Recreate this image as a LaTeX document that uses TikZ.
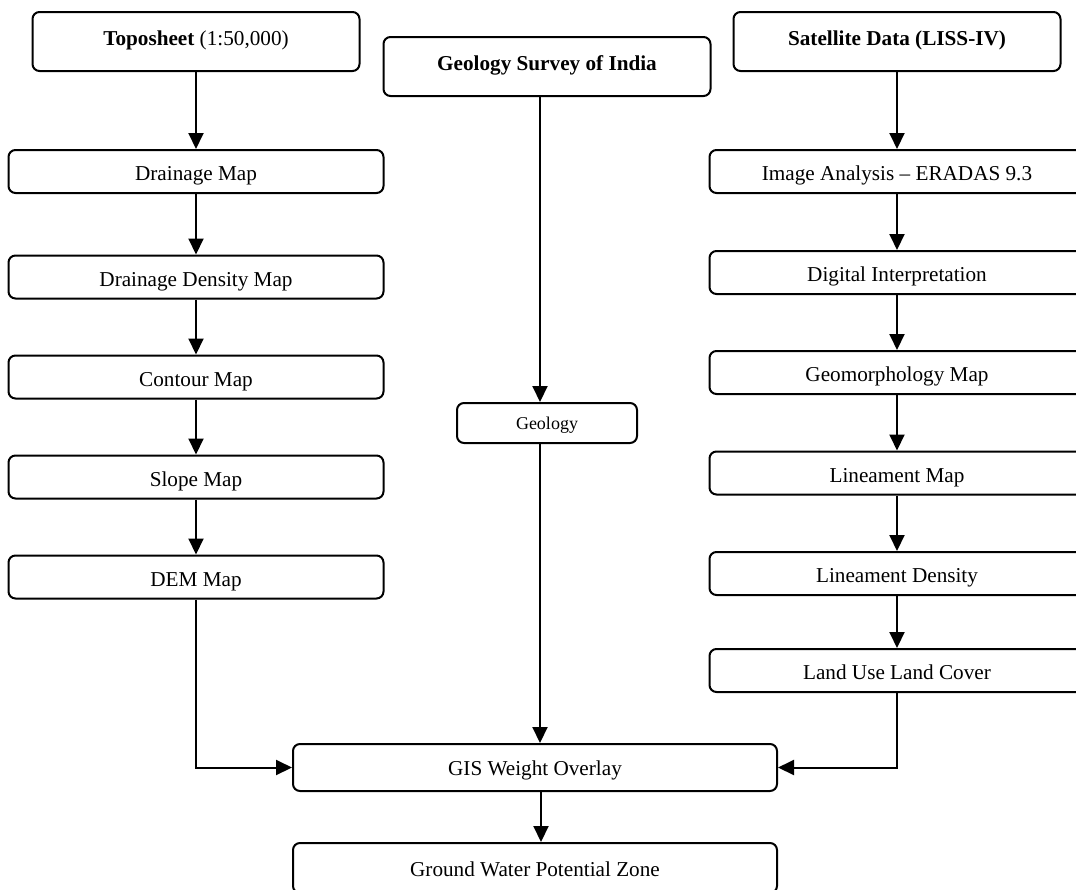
\documentclass[tikz,border=0pt]{standalone}
\usepackage{fontspec}
\setmainfont{Liberation Serif}
\usetikzlibrary{arrows.meta, positioning}

\tikzset{
  box/.style={draw, rounded corners=7pt, minimum width=375pt, minimum height=43pt,
    inner sep=0pt, text height=18pt, text depth=0pt, font=\fontsize{21.2}{25}\selectfont},
  head/.style={box, minimum width=327pt, minimum height=59pt, text height=7pt},
  wide/.style={box, minimum width=484pt, minimum height=47pt, text height=16.4pt},
}

\begin{document}
\begin{tikzpicture}[>={Triangle[width=15pt,length=16pt]}, line width=2pt,
    node distance=100pt, on grid]
      \useasboundingbox (0,0) rectangle (1076pt,-889pt);

      % left column
      \node[head] (l_0) at (196pt,-41.5pt) {\textbf{Toposheet} (1:50,000)};
      \node[box] (l_1) [below=130pt of l_0] {Drainage Map};
      \node[box] (l_2) [below=105.5pt of l_1] {Drainage Density Map};
      \node[box] (l_3) [below=of l_2] {Contour Map};
      \node[box] (l_4) [below=of l_3] {Slope Map};
      \node[box] (l_5) [below=of l_4] {DEM Map};

      % middle
      \node[head] (m_0) at (547pt,-66.5pt) {\textbf{Geology Survey of India}};
      \node[box, minimum width=180pt, minimum height=40pt, text height=12pt,
        font=\fontsize{18}{22}\selectfont] (m_1) [below=356.5pt of m_0] {Geology};
      \node[wide] (o_1) at (535pt,-767.5pt) {GIS Weight Overlay};
      \node[wide, minimum height=50pt] (o_2) [below=100.5pt of o_1] {Ground Water Potential Zone};

      % right column
      \node[head] (r_0) at (897pt,-41.5pt) {\textbf{Satellite Data (LISS-IV)}};
      \node[box] (r_1) [below=130pt of r_0] {Image Analysis – ERADAS 9.3};
      \node[box] (r_2) [below=101pt of r_1] {Digital Interpretation};
      \node[box] (r_3) [below=of r_2] {Geomorphology Map};
      \node[box] (r_4) [below=100.5pt of r_3] {Lineament Map};
      \node[box] (r_5) [below=100.5pt of r_4] {Lineament Density};
      \node[box] (r_6) [below=97pt of r_5] {Land Use Land Cover};

      \path[->] (l_0) edge (l_1)
            (l_1) edge (l_2)
            (l_2) edge (l_3)
            (l_3) edge (l_4)
            (l_4) edge (l_5);
      \path[->] (r_0) edge (r_1)
            (r_1) edge (r_2)
            (r_2) edge (r_3)
            (r_3) edge (r_4)
            (r_4) edge (r_5)
            (r_5) edge (r_6);
      \path[->] ([xshift=-7pt]m_0.south -| m_1.south) edge ([xshift=-7pt]m_1.north)
            ([xshift=-7pt]m_1.south) edge ([xshift=-7pt]m_1.south |- o_1.north)
            ([xshift=6pt]o_1.south) edge ([xshift=6pt]o_2.north);
      \draw[->] (l_5) |- (o_1);
      \draw[->] (r_6) |- (o_1);
    \end{tikzpicture}
\end{document}
